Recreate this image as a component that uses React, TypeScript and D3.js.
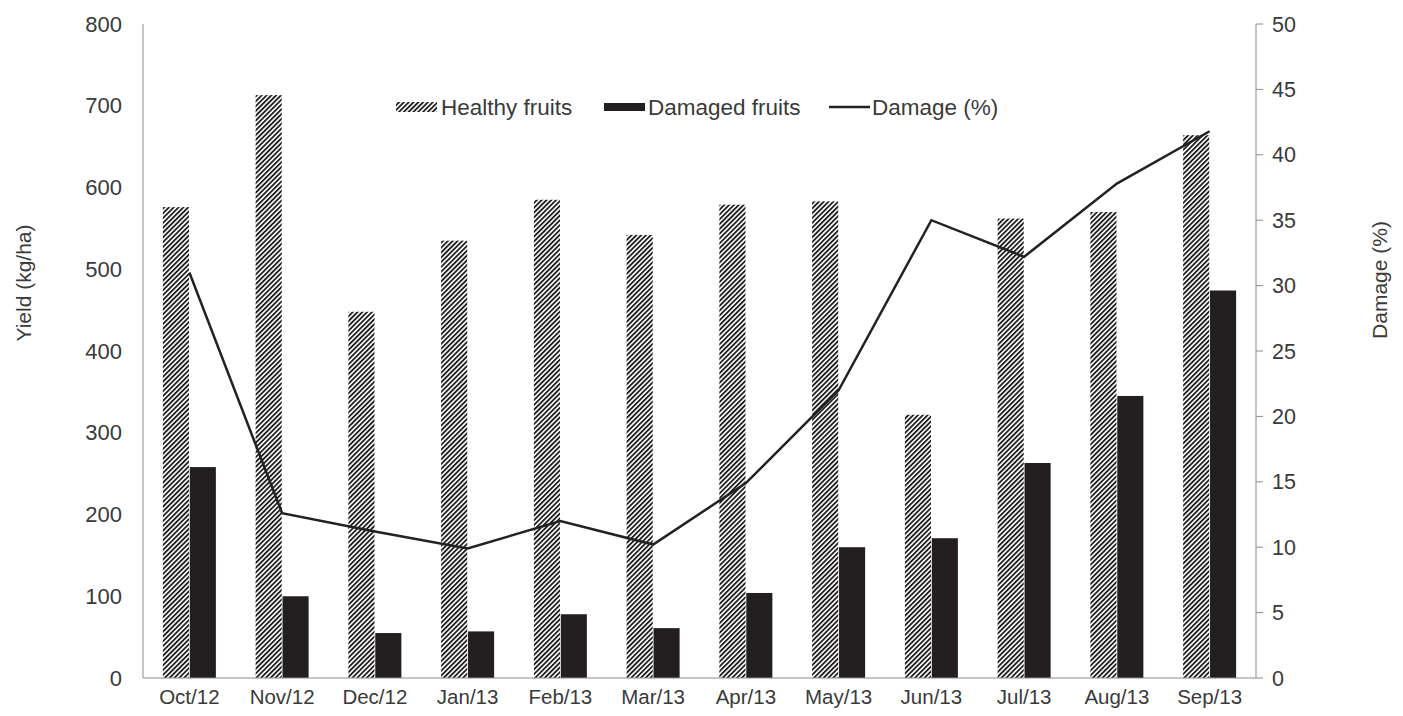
import React from 'react';
import * as d3 from 'd3';

const categories = ['Oct/12', 'Nov/12', 'Dec/12', 'Jan/13', 'Feb/13', 'Mar/13', 'Apr/13', 'May/13', 'Jun/13', 'Jul/13', 'Aug/13', 'Sep/13'];
const healthy = [576, 713, 448, 535, 585, 542, 579, 583, 322, 562, 570, 664];
const damaged = [258, 100, 55, 57, 78, 61, 104, 160, 171, 263, 345, 474];
const damagePct = [31.0, 12.6, 11.2, 9.9, 12.0, 10.2, 14.9, 22.0, 35.0, 32.2, 37.8, 41.8];
const leftTicks = [0, 100, 200, 300, 400, 500, 600, 700, 800];
const rightTicks = [0, 5, 10, 15, 20, 25, 30, 35, 40, 45, 50];
const seriesKeys = ['healthy', 'damaged'];

const W = 1403, H = 716;
const left = 143, right = 1256, top = 24, bottom = 678;
const textColor = '#3a3a3a';
const axisColor = '#8c8c8c';
const font = '"Liberation Sans", Arial, sans-serif';

export default function App() {
  const x = d3.scaleBand<string>().domain(categories).range([left, right]).padding(0);
  const yL = d3.scaleLinear().domain([0, 800]).range([bottom, top]);
  const yR = d3.scaleLinear().domain([0, 50]).range([bottom, top]);
  const bw = x.bandwidth();
  const inner = d3.scaleBand<string>().domain(seriesKeys).range([bw / 2 - 26.5, bw / 2 + 26.5]).paddingInner(0.03);
  const line = d3.line<number>()
    .x((_, i) => (x(categories[i]) as number) + bw / 2)
    .y(d => yR(d));

  return (
    <svg width={W} height={H} style={{ position: 'absolute', left: 0, top: 0, background: '#fff' }} fontFamily={font}>
      <defs>
        <pattern id="hatch" patternUnits="userSpaceOnUse" width={3.4} height={10} patternTransform="rotate(45)">
          <rect x={0} y={0} width={3.4} height={10} fill="#fff" />
          <line x1={0.9} y1={0} x2={0.9} y2={10} stroke="#1e1e1e" strokeWidth={1.8} />
        </pattern>
      </defs>
      <rect x={0} y={0} width={W} height={H} fill="#fff" />
      {categories.map((c, i) => (
        <g key={c}>
          <rect x={(x(c) as number) + (inner('healthy') as number)} y={yL(healthy[i])}
            width={inner.bandwidth()} height={yL(0) - yL(healthy[i])} fill="url(#hatch)" />
          <rect x={(x(c) as number) + (inner('damaged') as number)} y={yL(damaged[i])}
            width={inner.bandwidth()} height={yL(0) - yL(damaged[i])} fill="#231f20" />
        </g>
      ))}
      <line x1={left} y1={top} x2={left} y2={bottom} stroke={axisColor} strokeWidth={1} />
      <line x1={left} y1={bottom} x2={right} y2={bottom} stroke={axisColor} strokeWidth={1} />
      <line x1={right} y1={top} x2={right} y2={bottom} stroke={axisColor} strokeWidth={1} />
      {leftTicks.map(t => (
        <text key={t} x={left - 21} y={yL(t)} dy="0.35em" textAnchor="end" fontSize={22} fill={textColor}>{t}</text>
      ))}
      {rightTicks.map(t => (
        <g key={t}>
          <line x1={right} x2={right + 7} y1={yR(t)} y2={yR(t)} stroke={axisColor} strokeWidth={1} />
          <text x={right + 16} y={yR(t)} dy="0.35em" textAnchor="start" fontSize={21.5} fill={textColor}>{t}</text>
        </g>
      ))}
      {categories.map(c => (
        <text key={c} x={(x(c) as number) + bw / 2} y={697} dy="0.35em" textAnchor="middle" fontSize={20.5} fill={textColor}>{c}</text>
      ))}
      <path d={line(damagePct) as string} fill="none" stroke="#222" strokeWidth={2.5} strokeLinejoin="miter" />
      <text transform={`translate(24,283) rotate(-90)`} textAnchor="middle" dy="0.35em" fontSize={21} fill={textColor}>Yield (kg/ha)</text>
      <text transform={`translate(1380,280) rotate(-90)`} textAnchor="middle" dy="0.35em" fontSize={21} fill={textColor}>Damage (%)</text>
      <g>
        <rect x={396} y={102} width={41} height={10} fill="url(#hatch)" />
        <text x={441} y={107} dy="0.35em" fontSize={22.5} fill={textColor}>Healthy fruits</text>
        <rect x={604} y={103} width={41} height={8} fill="#231f20" />
        <text x={648} y={107} dy="0.35em" fontSize={22.5} fill={textColor}>Damaged fruits</text>
        <line x1={829} x2={870} y1={107} y2={107} stroke="#222" strokeWidth={2.5} />
        <text x={872} y={107} dy="0.35em" fontSize={22.5} fill={textColor}>Damage (%)</text>
      </g>
    </svg>
  );
}
